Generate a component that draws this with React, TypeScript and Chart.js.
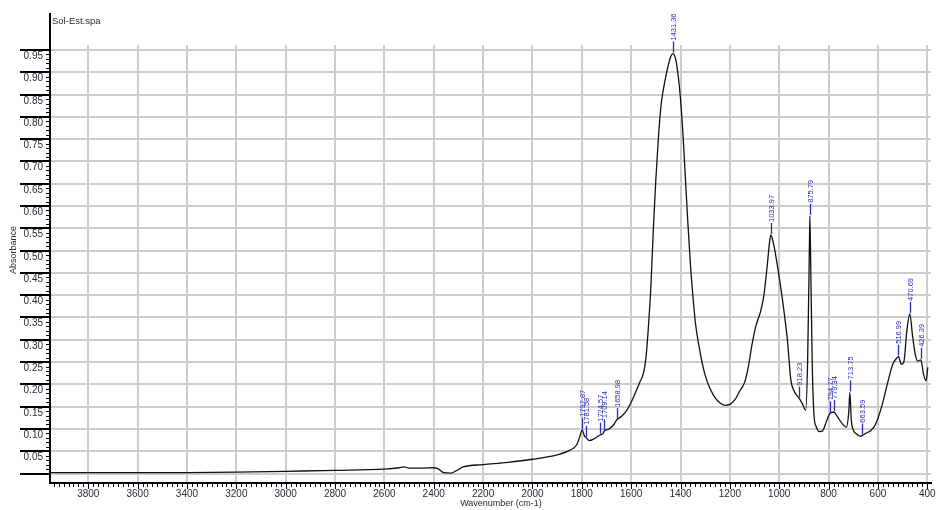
import React, { useEffect, useRef } from "react";
import { Chart, registerables } from "chart.js";

Chart.register(...registerables);

// Spectrum: wavenumber (cm-1) and absorbance
const wavenumbers = [
  3955, 3800, 3600, 3400, 3200, 3000, 2800, 2600, 2540, 2520, 2500, 2450, 2400, 2380, 2360, 2330, 2310, 2280,
  2200, 2100, 2000, 1900, 1850, 1820, 1810, 1797.87, 1790, 1781.58, 1770, 1750, 1724.57, 1715, 1709.14, 1690,
  1670, 1658.98, 1640, 1620, 1600, 1580, 1565, 1550, 1540, 1530, 1520, 1510, 1500, 1490, 1480, 1470, 1460,
  1450, 1440, 1431.36, 1420, 1410, 1400, 1390, 1380, 1370, 1360, 1350, 1340, 1320, 1300, 1280, 1260, 1240,
  1220, 1200, 1180, 1160, 1140, 1125, 1110, 1095, 1075, 1062, 1048, 1040, 1033.97, 1025, 1007, 987, 967, 953,
  940, 918.23, 905, 893, 885, 878, 875.79, 872, 866, 859, 850, 838, 825, 810, 794.77, 787, 779.34, 765, 745,
  728, 718, 713.75, 708, 700, 685, 672, 663.59, 650, 630, 610, 585, 560, 540, 525, 516.99, 505, 495, 483,
  470.69, 460, 448, 438, 426.39, 415, 405, 398,
];
const absorbance = [
  0.002, 0.002, 0.002, 0.002, 0.003, 0.005, 0.007, 0.01, 0.013, 0.015, 0.012, 0.012, 0.013, 0.01, 0.002, 0.001,
  0.006, 0.015, 0.02, 0.025, 0.032, 0.042, 0.052, 0.065, 0.08, 0.098, 0.085, 0.08, 0.074, 0.078, 0.087, 0.089,
  0.095, 0.1, 0.11, 0.12, 0.128, 0.14, 0.16, 0.185, 0.205, 0.225, 0.26, 0.33, 0.42, 0.55, 0.66, 0.75, 0.82,
  0.86, 0.89, 0.915, 0.935, 0.942, 0.93, 0.895, 0.84, 0.76, 0.66, 0.56, 0.47, 0.4, 0.34, 0.27, 0.22, 0.19,
  0.17, 0.158, 0.153, 0.155, 0.165, 0.185, 0.205, 0.24, 0.29, 0.33, 0.365, 0.4, 0.47, 0.515, 0.535, 0.52,
  0.465, 0.39, 0.3, 0.21, 0.185, 0.168, 0.155, 0.142, 0.25, 0.5, 0.578, 0.45, 0.24, 0.13, 0.105, 0.094, 0.095,
  0.115, 0.135, 0.137, 0.138, 0.128, 0.112, 0.104, 0.14, 0.182, 0.12, 0.098, 0.088, 0.084, 0.085, 0.09, 0.096,
  0.11, 0.15, 0.205, 0.245, 0.258, 0.262, 0.245, 0.25, 0.32, 0.358, 0.31, 0.265, 0.252, 0.255, 0.222, 0.208,
  0.238,
];

// Labelled peak positions (cm-1)
const peakLabels = [
  1797.87, 1781.58, 1724.57, 1709.14, 1658.98, 1431.36, 1033.97, 918.23, 875.79, 794.77, 779.34, 713.75,
  663.59, 516.99, 470.69, 426.39,
];

const xTickValues = [3800, 3600, 3400, 3200, 3000, 2800, 2600, 2400, 2200, 2000, 1800, 1600, 1400, 1200, 1000, 800, 600, 400];
const yTickValues = [0.95, 0.9, 0.85, 0.8, 0.75, 0.7, 0.65, 0.6, 0.55, 0.5, 0.45, 0.4, 0.35, 0.3, 0.25, 0.2, 0.15, 0.1, 0.05];

const X_MIN = 385;
const X_MAX = 3955;
const Y_MIN = -0.019;
const Y_MAX = 1.033;

const FONT = '"Liberation Sans", Arial, sans-serif';
const TEXT = "#2a2a36";
const PEAK_BLUE = "#2a2ab4";

const spectrumFrame = {
  id: "spectrumFrame",
  beforeDatasetsDraw(chart: any) {
    const { ctx, chartArea } = chart;
    const xs = chart.scales.x;
    const ys = chart.scales.y;
    ctx.save();
    ctx.strokeStyle = "#cdcdcd";
    ctx.lineWidth = 2;
    const gridTop = ys.getPixelForValue(0.95) - 5;
    for (const v of xTickValues) {
      const px = Math.round(xs.getPixelForValue(v));
      ctx.beginPath();
      ctx.moveTo(px, gridTop);
      ctx.lineTo(px, chartArea.bottom);
      ctx.stroke();
    }
    for (const v of [0, ...yTickValues]) {
      const py = Math.round(ys.getPixelForValue(v));
      ctx.beginPath();
      ctx.moveTo(chartArea.left, py);
      ctx.lineTo(chartArea.right, py);
      ctx.stroke();
    }
    ctx.restore();
  },
  afterDraw(chart: any) {
    const { ctx, chartArea } = chart;
    const xs = chart.scales.x;
    const ys = chart.scales.y;
    const left = chartArea.left;
    const bottom = chartArea.bottom;
    ctx.save();

    // axis lines
    ctx.strokeStyle = "#000";
    ctx.lineWidth = 2;
    ctx.beginPath();
    ctx.moveTo(left, chartArea.top);
    ctx.lineTo(left, bottom + 1);
    ctx.lineTo(chartArea.right + 1, bottom + 1);
    ctx.stroke();

    // y minor ticks
    ctx.lineWidth = 1;
    for (let i = 0; i <= 95; i++) {
      const py = Math.round(ys.getPixelForValue(i / 100)) + 0.5;
      ctx.beginPath();
      ctx.moveTo(left - 4, py);
      ctx.lineTo(left, py);
      ctx.stroke();
    }
    // y major ticks with labels
    ctx.lineWidth = 2;
    ctx.font = `10px ${FONT}`;
    ctx.fillStyle = TEXT;
    ctx.textAlign = "right";
    ctx.textBaseline = "middle";
    for (const v of [0, ...yTickValues]) {
      const py = Math.round(ys.getPixelForValue(v));
      ctx.beginPath();
      ctx.moveTo(20, py);
      ctx.lineTo(left, py);
      ctx.stroke();
      if (v > 0) ctx.fillText(v.toFixed(2), 43, py + 6);
    }

    // x minor and major ticks
    ctx.lineWidth = 1;
    for (let v = 3940; v >= 400; v -= 20) {
      const px = Math.round(xs.getPixelForValue(v)) + 0.5;
      const major = v % 200 === 0;
      ctx.beginPath();
      ctx.moveTo(px, bottom + 1);
      ctx.lineTo(px, bottom + (major ? 7 : 5));
      ctx.stroke();
    }
    ctx.textAlign = "center";
    ctx.textBaseline = "middle";
    for (const v of xTickValues) {
      const px = xs.getPixelForValue(v);
      ctx.fillText(String(v), px, bottom + 12);
    }

    // axis titles and file name
    ctx.font = `9px ${FONT}`;
    ctx.fillText("Wavenumber (cm-1)", 501, 504);
    ctx.save();
    ctx.translate(14, 250);
    ctx.rotate(-Math.PI / 2);
    ctx.fillText("Absorbance", 0, 0);
    ctx.restore();
    ctx.textAlign = "left";
    ctx.font = `9.5px ${FONT}`;
    ctx.fillText("Sol-Est.spa", 52, 21);

    // peak markers
    ctx.strokeStyle = PEAK_BLUE;
    ctx.fillStyle = PEAK_BLUE;
    ctx.lineWidth = 1.3;
    ctx.font = `7.5px ${FONT}`;
    for (const wn of peakLabels) {
      const idx = wavenumbers.indexOf(wn);
      if (idx < 0) continue;
      const px = Math.round(xs.getPixelForValue(wn)) + 0.5;
      const py = ys.getPixelForValue(absorbance[idx]);
      ctx.beginPath();
      ctx.moveTo(px, py - 1);
      ctx.lineTo(px, py - 12);
      ctx.stroke();
      ctx.save();
      ctx.translate(px, py - 13);
      ctx.rotate(-Math.PI / 2);
      ctx.textAlign = "left";
      ctx.textBaseline = "middle";
      ctx.fillText(wn.toFixed(2), 0, 0);
      ctx.restore();
    }
    ctx.restore();
  },
};

export default function App() {
  const canvasRef = useRef<HTMLCanvasElement | null>(null);

  useEffect(() => {
    const canvas = canvasRef.current;
    if (!canvas) return;
    const chart = new Chart(canvas, {
      type: "line",
      data: {
        datasets: [
          {
            data: wavenumbers.map((w, i) => ({ x: w, y: absorbance[i] })),
            borderColor: "#111",
            borderWidth: 1.3,
            pointRadius: 0,
            fill: false,
            cubicInterpolationMode: "monotone",
          },
        ],
      },
      options: {
        responsive: false,
        animation: false,
        events: [],
        layout: { padding: { left: 50, right: 9, top: 13, bottom: 28 } },
        plugins: { legend: { display: false }, tooltip: { enabled: false } },
        scales: {
          x: { type: "linear", reverse: true, min: X_MIN, max: X_MAX, display: false },
          y: { type: "linear", min: Y_MIN, max: Y_MAX, display: false },
        },
      },
      plugins: [spectrumFrame],
    });
    return () => chart.destroy();
  }, []);

  return (
    <div style={{ position: "fixed", left: 0, top: 0, width: 940, height: 510, background: "#fff" }}>
      <canvas ref={canvasRef} width={940} height={510} />
    </div>
  );
}
